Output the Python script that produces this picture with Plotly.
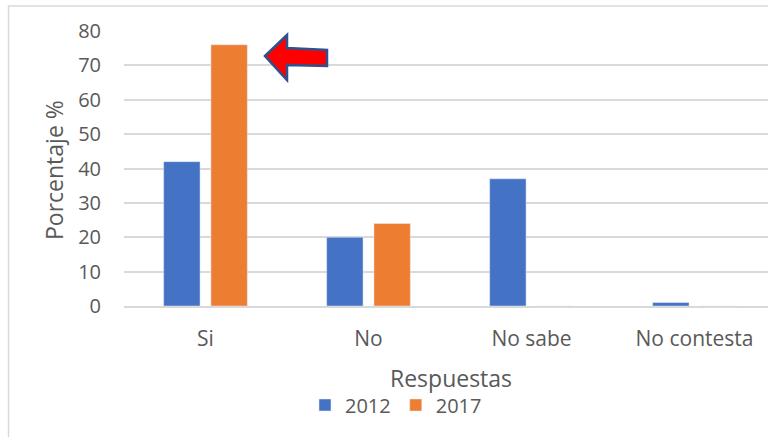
import plotly.graph_objects as go

categories = ["Si", "No", "No sabe", "No contesta"]
values_2012 = [42, 20, 37, 1]
values_2017 = [76, 24, 0, 0]
y_ticks = [0, 10, 20, 30, 40, 50, 60, 70, 80]

W, H = 768, 437
L, T, B = 124, 31, 131
PW, PH = W - L, H - T - B

def px_x(p):
    return (p - L) / PW

def px_y(p):
    return (H - B - p) / PH

txt = "#595959"
font = "Open Sans"

fig = go.Figure()
fig.add_trace(go.Bar(name="2012", x=categories, y=values_2012, marker_color="#4472C4"))
fig.add_trace(go.Bar(name="2017", x=categories, y=values_2017, marker_color="#ED7D31"))

band = 163
fig.update_layout(
    width=W, height=H,
    margin=dict(l=L, r=0, t=T, b=B, pad=0),
    paper_bgcolor="white", plot_bgcolor="white",
    barmode="group", bargap=0.42, bargroupgap=0.23,
    font=dict(family=font, color=txt, size=20),
    showlegend=True,
    legend=dict(orientation="h", xanchor="center", yanchor="middle",
                x=px_x(396), y=px_y(405), font=dict(size=20, color=txt),
                itemwidth=30, traceorder="normal"),
    xaxis=dict(range=[-0.5, -0.5 + PW / band], showgrid=False, showline=True,
               linecolor="#D9D9D9", linewidth=1.5, ticks="", ticklabelstandoff=13,
               tickfont=dict(size=21, color=txt), fixedrange=True),
    yaxis=dict(range=[0, 80], tickvals=y_ticks, showgrid=True, gridcolor="#D9D9D9",
               gridwidth=1.5, zeroline=False, showline=False, ticks="",
               ticklabelstandoff=22, tickfont=dict(size=20, color=txt)),
)

# chart frame
fig.add_shape(type="rect", xref="paper", yref="paper",
              x0=px_x(8.5), y0=px_y(470), x1=px_x(800), y1=px_y(6),
              line=dict(color="#D9D9D9", width=1.5), fillcolor="rgba(0,0,0,0)", layer="below")

# axis titles
fig.add_annotation(text="Porcentaje %", xref="paper", yref="paper",
                   x=px_x(54), y=px_y(170), textangle=-90, showarrow=False,
                   font=dict(size=23, color=txt), xanchor="center", yanchor="middle")
fig.add_annotation(text="Respuestas", xref="paper", yref="paper",
                   x=px_x(451), y=px_y(378), showarrow=False,
                   font=dict(size=23, color=txt), xanchor="center", yanchor="middle")

# red arrow pointing to Si 2017 bar
def dx(p):
    return -0.5 + (p - L) / band

def dy(p):
    return (H - B - p) / PH * 80

pts = [(265, 56), (287, 35), (287, 48), (327, 50), (327, 66), (287, 65), (287, 80)]
path = "M " + " L ".join(f"{dx(x):.4f},{dy(y):.3f}" for x, y in pts) + " Z"
fig.add_shape(type="path", xref="x", yref="y", path=path,
              fillcolor="#FF0000", line=dict(color="#2F528F", width=2.5))

fig.write_html("out.html", config={"displayModeBar": False},
               post_script="document.body.style.margin='0px';document.body.style.overflow='hidden';")
